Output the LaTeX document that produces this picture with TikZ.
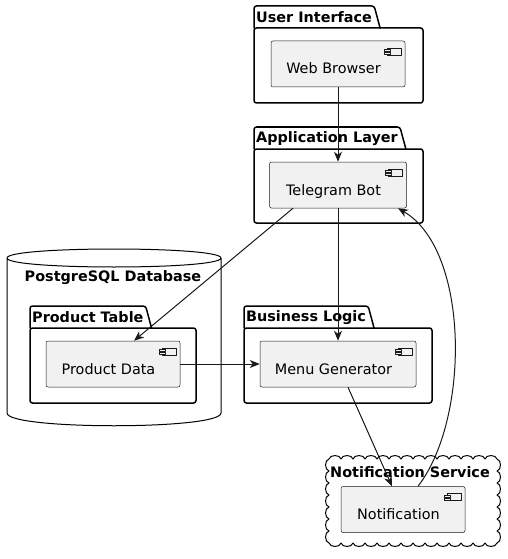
\documentclass[tikz,border=0pt]{standalone}
\usepackage{fontspec}
\setmainfont{DejaVu Sans}
\usetikzlibrary{arrows.meta}

\begin{document}
\begin{tikzpicture}[x=1pt,y=-1pt,>={Stealth[length=10pt,width=8pt,inset=3pt]},line join=round,
	comp/.style={draw=black!90,line width=0.5pt,fill=black!5.5,rounded corners=2pt,minimum height=46pt,
		text height=23pt,text depth=3pt,font=\fontsize{14.4}{16}\selectfont,
		execute at begin node={\hspace*{-9pt}},
		path picture={
			\draw[sharp corners,line width=0.5pt] ([shift={(-18,7)}]path picture bounding box.north east) rectangle ++(14,7);
			\draw[sharp corners,line width=0.5pt,fill=black!5.5] ([shift={(-21,8.5)}]path picture bounding box.north east) rectangle ++(6,2)
				([shift={(-21,11.5)}]path picture bounding box.north east) rectangle ++(6,2);}},
	pkg/.style={draw=black,line width=1.5pt,rounded corners=2.5pt},
	pkgtitle/.style={anchor=north west,inner xsep=2pt,minimum height=22pt,font=\bfseries\fontsize{14.4}{16}\selectfont},
	boxtitle/.style={font=\bfseries\fontsize{14.4}{16}\selectfont},
	shell/.style={draw=black,line width=1pt},
	link/.style={->,draw=black!90,line width=1pt}]
	\useasboundingbox (0,0) rectangle (508,559);

	\draw[shell] (7,258) .. controls (7,246) and (221,246) .. (221,258)
		.. controls (221,270) and (7,270) .. (7,258)
		-- (7,413) .. controls (7,430) and (221,430) .. (221,413) -- (221,258);
	\node[boxtitle] (dbT) at (113,278) {PostgreSQL Database};

	\draw[shell] (329,459)
		foreach \i in {1,...,14} {to[bend left=80] ++(12,0)}
		foreach \i in {1,...,7} {to[bend left=80] ++(0,12)}
		foreach \i in {1,...,14} {to[bend left=80] ++(-12,0)}
		foreach \i in {1,...,7} {to[bend left=80] ++(0,-12)};
	\node[boxtitle] (nsT) at (410,472) {Notification Service};

	\node[pkgtitle] (uiT) at (254,6) {User Interface};
	\node[pkgtitle] (alT) at (254,127) {Application Layer};
	\node[pkgtitle] (ptT) at (30,306) {Product Table};
	\node[pkgtitle] (blT) at (244,306) {Business Logic};
	\foreach \t in {uiT,alT,ptT,blT}
		\draw[pkg] (\t.south west) -- (\t.north west) -- (\t.north east) -- ([xshift=6pt]\t.south east);
	\draw[pkg] (254,28) rectangle (423,103);
	\draw[pkg] (254,149) rectangle (423,223);
	\draw[pkg] (30,328) rectangle (196,403);
	\draw[pkg] (244,328) rectangle (432,403);

	\node[comp,minimum width=134pt] (wb) at (338,64) {Web Browser};
	\node[comp,minimum width=137pt] (tb) at (338,185) {Telegram Bot};
	\node[comp,minimum width=134pt] (pd) at (113,364) {Product Data};
	\node[comp,minimum width=156pt] (mg) at (338,364) {Menu Generator};
	\node[comp,minimum width=124pt] (nt) at (403,509.5) {Notification};

	\draw[link] (wb) -- (tb);
	\draw[link] ([xshift=-45pt]tb.south) -- ([xshift=21pt]pd.north);
	\draw[link] (tb) -- (mg);
	\draw[link] (pd) -- (mg);
	\draw[link] ([xshift=10pt]mg.south) -- ([xshift=-11pt]nt.north);
	\draw[link] ([xshift=15pt]nt.north) .. controls +(52,-67) and +(72,42) .. ([xshift=60pt]tb.south);
\end{tikzpicture}
\end{document}
